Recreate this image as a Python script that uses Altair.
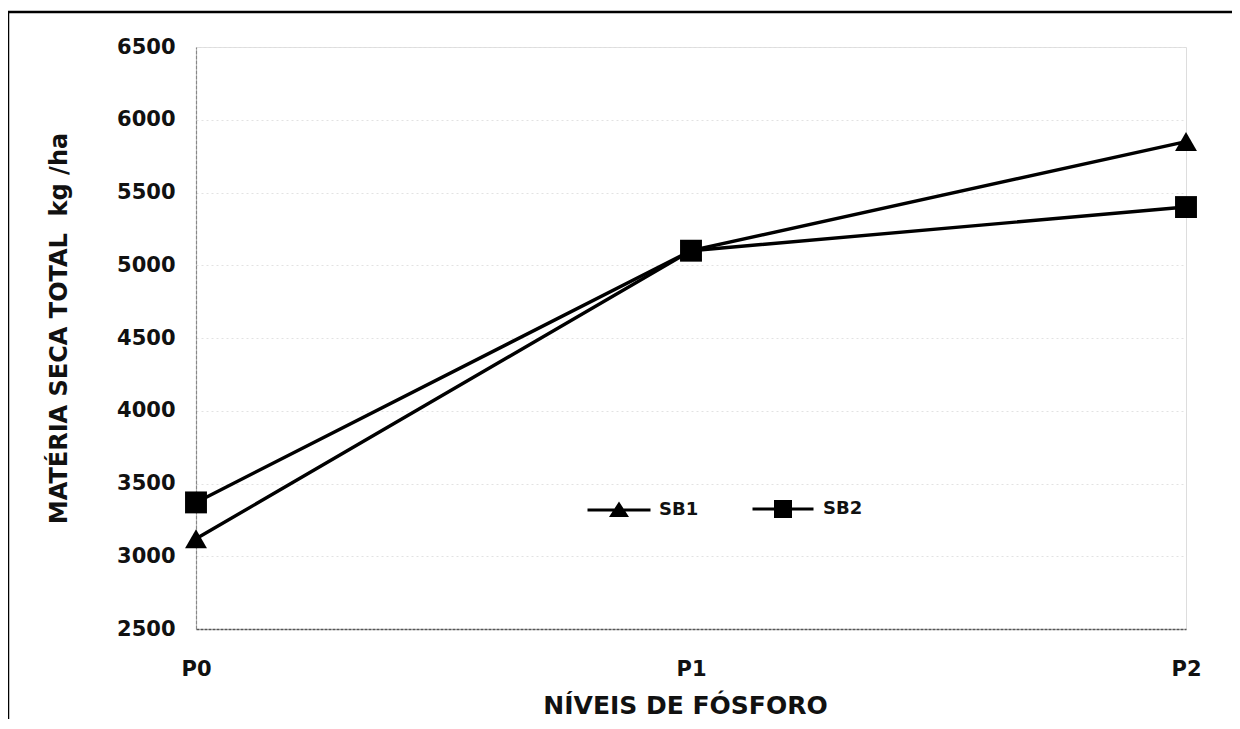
import altair as alt
import pandas as pd

levels = ["P0", "P1", "P2"]
sb1 = [3120, 5100, 5850]
sb2 = [3370, 5100, 5400]
series_names = ["SB1", "SB2"]
y_ticks = [2500, 3000, 3500, 4000, 4500, 5000, 5500, 6000, 6500]

rows = []
for name, vals in zip(series_names, [sb1, sb2]):
    for lv, v in zip(levels, vals):
        rows.append({"nivel": lv, "valor": v, "serie": name})
df = pd.DataFrame(rows)

FONT = "DejaVu Sans"

x_enc = alt.X(
    "nivel:N",
    sort=levels,
    scale=alt.Scale(type="point", padding=0),
    axis=alt.Axis(
        title="NÍVEIS DE FÓSFORO",
        labelAngle=0,
        ticks=False,
        tickSize=0,
        grid=False,
        labelPadding=29,
        labelFontSize=21,
        labelFont=FONT,
        labelFontWeight="bold",
        labelColor="#111",
        domainColor="#555",
        domainWidth=1.5,
        domainDash=[3, 1],
        titleFont=FONT,
        titleFontSize=25,
        titleFontWeight="bold",
        titleColor="#111",
        titleX=489,
        titleY=76,
        titleBaseline="middle",
        titleAlign="center",
    ),
)
y_enc = alt.Y(
    "valor:Q",
    scale=alt.Scale(domain=[2500, 6500], nice=False, zero=False),
    axis=alt.Axis(
        title="MATÉRIA SECA TOTAL \u00a0kg /ha",
        values=y_ticks,
        format="d",
        ticks=False,
        tickSize=0,
        grid=True,
        gridColor="#e2e2e2",
        gridDash=[2, 3],
        gridWidth=1,
        labelPadding=21,
        labelFontSize=21,
        labelFont=FONT,
        labelFontWeight="bold",
        labelColor="#111",
        domainColor="#888",
        domainWidth=1.2,
        domainDash=[4, 1],
        titleFont=FONT,
        titleFontSize=24,
        titleFontWeight="bold",
        titleColor="#111",
        titleAngle=270,
        titleX=-137,
        titleY=281,
        titleAlign="center",
        titleBaseline="middle",
    ),
)

lines = alt.Chart(df).mark_line(color="black", strokeWidth=3.4).encode(
    x=x_enc, y=y_enc, detail="serie:N"
)

pts_sb1 = (
    alt.Chart(df)
    .transform_filter(alt.datum.serie == "SB1")
    .mark_point(filled=True, color="black", opacity=1, shape="triangle-up", size=480)
    .encode(x=x_enc, y=y_enc)
)
pts_sb2 = (
    alt.Chart(df)
    .transform_filter(alt.datum.serie == "SB2")
    .mark_point(filled=True, color="black", opacity=1, shape="square", size=480)
    .encode(x=x_enc, y=y_enc)
)

# legend symbols: a short line with the marker on it (filled outlines)
legend_paths = [
    "M-3.15,-0.16H3.15V0.16H-3.15ZM0,-0.85L1,0.7L-1,0.7Z",
    "M-3.05,-0.16H3.05V0.16H-3.05ZM-0.9,-0.9H0.9V0.9H-0.9Z",
]
legend_layer = (
    alt.Chart(df)
    .transform_filter("false")
    .mark_point(filled=True, color="black")
    .encode(
        x=x_enc,
        y=y_enc,
        shape=alt.Shape(
            "serie:N",
            scale=alt.Scale(domain=series_names, range=legend_paths),
            legend=alt.Legend(
                title=None,
                orient="none",
                direction="horizontal",
                legendX=412,
                legendY=451,
                padding=0,
                symbolSize=400,
                symbolFillColor="black",
                symbolOpacity=1,
                labelOffset=29,
                columnPadding=50,
                labelFont=FONT,
                labelFontSize=18,
                labelFontWeight="bold",
                labelColor="#111",
            ),
        ),
    )
)

frame = alt.Chart(pd.DataFrame({"a": [0]})).mark_rect(
    fill=None, stroke="black", strokeWidth=2.5
).encode(
    x=alt.value(-188), x2=alt.value(1100), y=alt.value(-35), y2=alt.value(720)
)

chart = (
    alt.layer(frame, lines, pts_sb1, pts_sb2, legend_layer)
    .properties(
        width=990,
        height=582,
        autosize=alt.AutoSizeParams(type="none"),
        padding={"left": 188, "top": 39, "right": 46, "bottom": 90},
    )
    .configure_view(stroke="#d0d0d0", strokeDash=[3, 2], strokeWidth=1)
    .configure(background="white")
)

chart.save("out.html", embed_options={"renderer": "svg", "actions": False})
